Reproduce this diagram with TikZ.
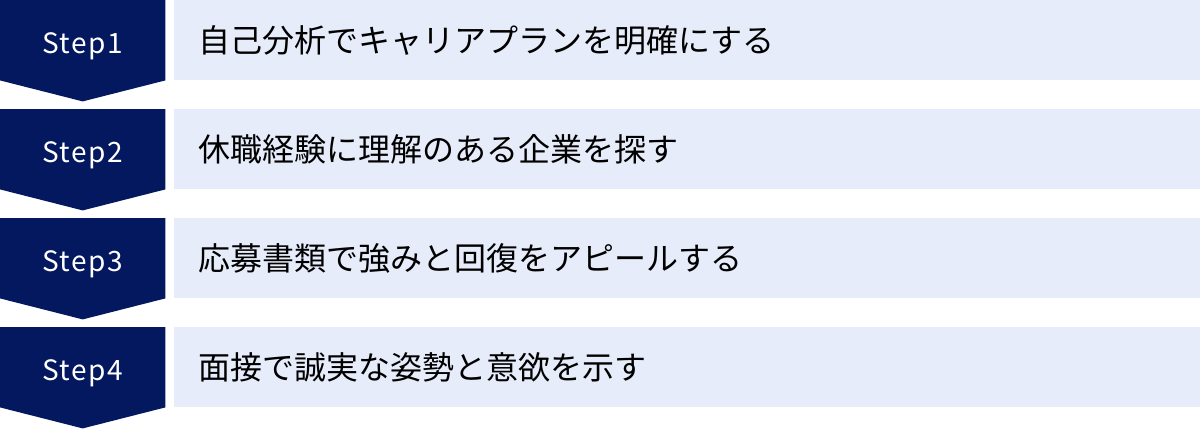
\documentclass[tikz,border=0pt]{standalone}
\usepackage{fontspec}
\usetikzlibrary{backgrounds}
\newfontfamily\jpfont{Noto Sans CJK JP}
\newfontfamily\stepfont[LetterSpace=6]{Noto Sans CJK JP}
\definecolor{navy}{HTML}{04185F}
\definecolor{paleblue}{HTML}{E6ECF9}

\begin{document}
\begin{tikzpicture}[x=1pt,y=-1pt,
  stepbox/.style={rectangle,anchor=north west,inner sep=0pt,minimum width=165pt,minimum height=80pt,
    text=white,font=\stepfont\fontsize{28}{32}\selectfont,text height=26pt,text depth=0pt},
  arrowbg/.style={fill=navy},
  item/.style={rectangle,anchor=north west,inner xsep=24pt,inner ysep=0pt,minimum width=1026pt,
    minimum height=80pt,text width=978pt,align=left,fill=paleblue,text=black,
    font=\jpfont\fontsize{32}{38}\selectfont}]

  \pgfmathsetmacro{\ysep}{109} ;

  \useasboundingbox (0,0) rectangle (1200,429) ;

  \node[stepbox] at (  0, 0*\ysep) (step1) {Step1} ;
  \node[stepbox] at (  0, 1*\ysep) (step2) {Step2} ;
  \node[stepbox] at (  0, 2*\ysep) (step3) {Step3} ;
  \node[stepbox] at (  0, 3*\ysep) (step4) {Step4} ;

  \node[item]    at (174, 0*\ysep) (task1) {自己分析でキャリアプランを明確にする} ;
  \node[item]    at (174, 1*\ysep) (task2) {休職経験に理解のある企業を探す} ;
  \node[item]    at (174, 2*\ysep) (task3) {応募書類で強みと回復をアピールする} ;
  \node[item]    at (174, 3*\ysep) (task4) {面接で誠実な姿勢と意欲を示す} ;

  \begin{scope}[on background layer]
    \fill[arrowbg] (step1.north west) -- (step1.north east) -- (step1.south east)
      -- ([yshift=-21pt]step1.south) -- (step1.south west) -- cycle ;
    \fill[arrowbg] (step2.north west) -- (step2.north east) -- (step2.south east)
      -- ([yshift=-21pt]step2.south) -- (step2.south west) -- cycle ;
    \fill[arrowbg] (step3.north west) -- (step3.north east) -- (step3.south east)
      -- ([yshift=-21pt]step3.south) -- (step3.south west) -- cycle ;
    \fill[arrowbg] (step4.north west) -- (step4.north east) -- (step4.south east)
      -- ([yshift=-21pt]step4.south) -- (step4.south west) -- cycle ;
  \end{scope}

\end{tikzpicture}
\end{document}
